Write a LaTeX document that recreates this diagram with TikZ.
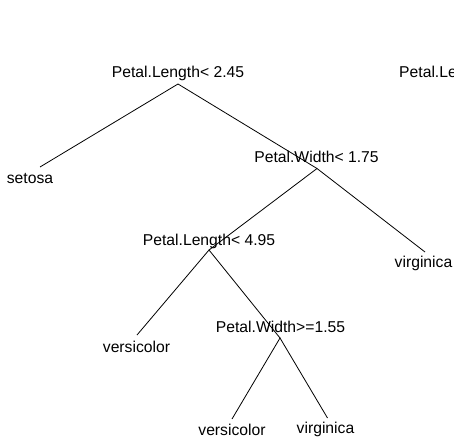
\documentclass[tikz,border=0pt]{standalone}
\usepackage{fontspec}
\setmainfont{Liberation Sans}
\begin{document}
\begin{tikzpicture}[x=1pt,y=-1pt,
  lbl/.style={inner sep=0pt,anchor=base,font=\fontsize{15.7}{18}\selectfont},
  edge/.style={draw=black,line width=0.8pt}]
\useasboundingbox (0,0) rectangle (454,438);
% node points
\coordinate (p1) at (178,84);
\coordinate (p2) at (40,167);
\coordinate (p3) at (317,168.5);
\coordinate (p4) at (209,250);
\coordinate (p5) at (425,252);
\coordinate (p6) at (137,335);
\coordinate (p7) at (280,338);
\coordinate (p8) at (232,419);
\coordinate (p9) at (327.5,418);
% edges
\draw[edge] (p2) -- (p1) -- (p3);
\draw[edge] (p4) -- (p3) -- (p5);
\draw[edge] (p6) -- (p4) -- (p7);
\draw[edge] (p8) -- (p7) -- (p9);
% labels
\node[lbl] (l1) at (178,78) {Petal.Length< 2.45};
\node[lbl] (l2) at (30,183.5) {setosa};
\node[lbl] (l3) at (316.5,163) {Petal.Width< 1.75};
\node[lbl] (l4) at (209,245.5) {Petal.Length< 4.95};
\node[lbl] (l5) at (423.5,267) {virginica};
\node[lbl] (l6) at (136.5,352) {versicolor};
\node[lbl] (l7) at (280.5,332) {Petal.Width>=1.55};
\node[lbl] (l8) at (232,435.5) {versicolor};
\node[lbl] (l9) at (325.5,433.5) {virginica};
\node[lbl,anchor=base west] (l10) at (399,78) {Petal.Le};
\end{tikzpicture}
\end{document}
